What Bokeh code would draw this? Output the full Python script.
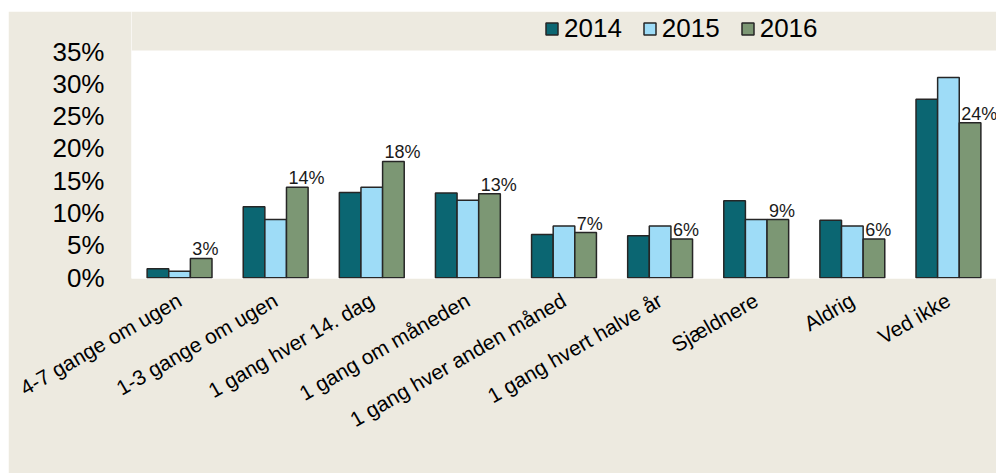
import math
from bokeh.plotting import figure
from bokeh.models import (FactorRange, Range1d, ColumnDataSource, Legend, LegendItem,
                          NumeralTickFormatter, FixedTicker, BoxAnnotation)
from bokeh.transform import dodge
from bokeh.embed import file_html
from bokeh.resources import INLINE
from bokeh.core.properties import value

categories = ["4-7 gange om ugen", "1-3 gange om ugen", "1 gang hver 14. dag",
              "1 gang om måneden", "1 gang hver anden måned", "1 gang hvert halve år",
              "Sjældnere", "Aldrig", "Ved ikke"]
years = ["2014", "2015", "2016"]
v2014 = [1.4, 11.0, 13.2, 13.1, 6.7, 6.5, 11.9, 8.9, 27.6]
v2015 = [1.0, 9.0, 14.0, 12.0, 8.0, 8.0, 9.0, 8.0, 31.0]
v2016 = [3.0, 14.0, 18.0, 13.0, 7.0, 6.0, 9.0, 6.0, 24.0]
labels2016 = ["3%", "14%", "18%", "13%", "7%", "6%", "9%", "6%", "24%"]
y_ticks = [0, 5, 10, 15, 20, 25, 30, 35]

colors = ["#0B6672", "#9EDCF7", "#7C9774"]
BEIGE = "#EDEAE0"
FONT = "Liberation Sans"

src = ColumnDataSource(dict(cat=categories, v2014=v2014, v2015=v2015, v2016=v2016,
                            lab=labels2016))

# frame spans from the legend strip down to the bar baseline; the part above 35.15 is painted beige
p = figure(width=988, height=462, output_backend="svg", toolbar_location=None,
           x_range=FactorRange(*categories, range_padding=0.0),
           y_range=Range1d(-0.11, 41.19),
           min_border_left=123, min_border_right=0, min_border_top=0, min_border_bottom=195)
p.margin = (11, 0, 0, 8)
p.background_fill_color = "white"
p.border_fill_color = BEIGE
p.outline_line_color = None
p.xgrid.grid_line_color = None
p.ygrid.grid_line_color = None

p.add_layout(BoxAnnotation(bottom=35.15, fill_color=BEIGE, fill_alpha=1.0,
                           line_color=None, level="underlay"))

bw = 0.225
renderers = []
for i, (col, c) in enumerate(zip(["v2014", "v2015", "v2016"], colors)):
    r = p.vbar(x=dodge("cat", (i - 1) * bw, range=p.x_range), top=col, bottom=0,
               width=bw, source=src, fill_color=c, line_color="#262626", line_width=1.5)
    renderers.append(r)

p.text(x=dodge("cat", bw - bw / 2, range=p.x_range), y="v2016", text="lab", source=src,
       x_offset=2, y_offset=-9, text_align="left", text_baseline="alphabetic",
       text_font=value(FONT), text_font_size="18px", text_color="#1a1a1a")

# axes
p.yaxis.ticker = FixedTicker(ticks=y_ticks)
p.yaxis.formatter = NumeralTickFormatter(format="0")
p.yaxis.major_label_overrides = {t: f"{t}%" for t in y_ticks}
p.yaxis.axis_line_color = None
p.yaxis.major_tick_line_color = None
p.yaxis.minor_tick_line_color = None
p.yaxis.major_label_standoff = 21
p.yaxis.major_label_text_font = FONT
p.yaxis.major_label_text_font_size = "26px"
p.yaxis.major_label_text_color = "#000000"

p.xaxis.axis_line_color = None
p.xaxis.major_tick_line_color = None
p.xaxis.minor_tick_line_color = None
p.xaxis.major_label_orientation = math.pi / 6
p.xaxis.major_label_standoff = 14
p.xaxis.major_label_text_font = FONT
p.xaxis.major_label_text_font_size = "21px"
p.xaxis.major_label_text_color = "#000000"

legend = Legend(items=[LegendItem(label=y, renderers=[r]) for y, r in zip(years, renderers)],
                orientation="horizontal", location=(413, 234),
                label_text_font=FONT, label_text_font_size="26px", label_text_color="#000000",
                glyph_width=15, glyph_height=15, label_standoff=5, spacing=20,
                padding=0, margin=0, border_line_color=None, background_fill_alpha=0)
p.add_layout(legend, "center")

open("out.html", "w").write(file_html(p, INLINE))
